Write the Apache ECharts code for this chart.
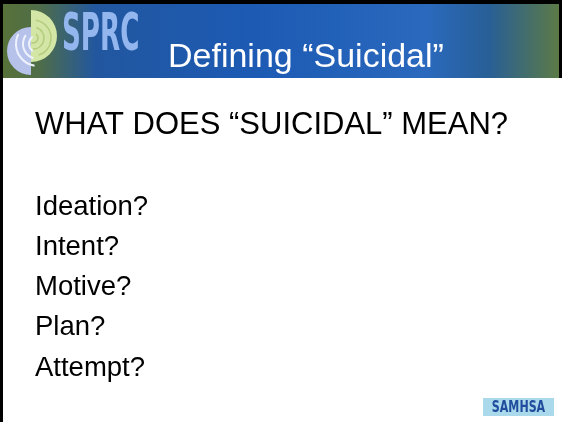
<!DOCTYPE html>
<html>
<head>
<meta charset="utf-8">
<script src="https://cdn.jsdelivr.net/npm/echarts@6/dist/echarts.min.js"></script>
<style>
    html, body { margin: 0; padding: 0; background: #fff; }
    #slide { width: 562px; height: 422px; }
</style>
</head>
<body>
<div id="slide"></div>
<script>
    // slide content
    var slideTitle = 'Defining “Suicidal”';
    var brandText = 'SPRC';
    var question = 'WHAT DOES “SUICIDAL” MEAN?';
    var terms = ['Ideation?', 'Intent?', 'Motive?', 'Plan?', 'Attempt?'];
    var footerText = 'SAMHSA';

    var chart = echarts.init(document.getElementById('slide'), null, {renderer: 'canvas'});

    var headerFill = new echarts.graphic.LinearGradient(0, 0, 1, 0, [
        {offset: 0, color: '#587238'},
        {offset: 0.07, color: '#4f6d48'},
        {offset: 0.17, color: '#22579f'},
        {offset: 0.45, color: '#1c5ab4'},
        {offset: 0.76, color: '#2a69bd'},
        {offset: 0.87, color: '#285f96'},
        {offset: 1, color: '#5e7b43'}
    ]);

    var sans = '"Liberation Sans", Arial, sans-serif';
    var narrow = '"DejaVu Sans Condensed", "DejaVu Sans", sans-serif';

    var elements = [
        // header band + frame
        {type: 'rect', shape: {x: 0, y: 0, width: 562, height: 78}, style: {fill: headerFill}, z: 1},
        {type: 'rect', shape: {x: 0, y: 0, width: 562, height: 4}, style: {fill: '#000'}, z: 5},
        {type: 'rect', shape: {x: 0, y: 0, width: 3, height: 422}, style: {fill: '#000'}, z: 5},
        {type: 'rect', shape: {x: 559, y: 0, width: 3, height: 78}, style: {fill: '#000'}, z: 5},

        // logo: left lavender half, right pale green half
        {type: 'sector', shape: {cx: 31, cy: 51, r: 24, startAngle: Math.PI / 2, endAngle: Math.PI * 1.5},
            style: {fill: '#b6c2ea'}, z: 2},
        {type: 'arc', shape: {cx: 38, cy: 44, r: 22, startAngle: Math.PI * 0.55, endAngle: Math.PI * 1.15},
            style: {stroke: '#eef2ff', lineWidth: 2, fill: null}, z: 3},
        {type: 'arc', shape: {cx: 38, cy: 44, r: 15, startAngle: Math.PI * 0.6, endAngle: Math.PI * 1.2},
            style: {stroke: '#eef2ff', lineWidth: 2, fill: null}, z: 3},
        {type: 'arc', shape: {cx: 38, cy: 44, r: 9, startAngle: Math.PI * 0.7, endAngle: Math.PI * 1.3},
            style: {stroke: '#eef2ff', lineWidth: 2, fill: null}, z: 3},
        {type: 'sector', shape: {cx: 31, cy: 36, r: 26, startAngle: -Math.PI / 2, endAngle: Math.PI / 2},
            style: {fill: '#d3e6a6'}, z: 2},
        {type: 'arc', shape: {cx: 33, cy: 38, r: 18, startAngle: -Math.PI * 0.45, endAngle: Math.PI * 0.4},
            style: {stroke: '#b4cc7e', lineWidth: 1.5, fill: null}, z: 3},
        {type: 'arc', shape: {cx: 33, cy: 38, r: 11, startAngle: -Math.PI * 0.4, endAngle: Math.PI * 0.5},
            style: {stroke: '#b4cc7e', lineWidth: 1.5, fill: null}, z: 3},
        {type: 'arc', shape: {cx: 33, cy: 38, r: 5, startAngle: -Math.PI * 0.3, endAngle: Math.PI * 0.6},
            style: {stroke: '#b4cc7e', lineWidth: 1.5, fill: null}, z: 3},

        // brand + title
        {type: 'text', x: 62, y: 36, scaleX: 0.56, z: 4,
            style: {text: brandText, x: 0, y: 0, fill: '#93b6ef', textAlign: 'left', textVerticalAlign: 'middle',
                font: 'bold 52px ' + narrow}},
        {type: 'text', z: 4,
            style: {text: slideTitle, x: 168, y: 58, fill: '#ffffff', textAlign: 'left', textVerticalAlign: 'middle',
                font: '34px ' + sans}},

        // body
        {type: 'text', z: 4,
            style: {text: question, x: 35, y: 125, fill: '#000', textAlign: 'left', textVerticalAlign: 'middle',
                font: '31px ' + sans}},

        // footer logo
        {type: 'rect', shape: {x: 483, y: 398, width: 71, height: 18}, style: {fill: '#a9d9ea'}, z: 2},
        {type: 'text', x: 518.5, y: 408, scaleX: 0.82, z: 4,
            style: {text: footerText, x: 0, y: 0, fill: '#1f4c9d', textAlign: 'center', textVerticalAlign: 'middle',
                font: 'bold 15px ' + narrow}}
    ];

    terms.forEach(function (t, i) {
        elements.push({
            type: 'text', z: 4,
            style: {text: t, x: 35, y: 207 + i * 40.25, fill: '#000', textAlign: 'left', textVerticalAlign: 'middle',
                font: '27.5px ' + sans}
        });
    });

    chart.setOption({
        backgroundColor: '#ffffff',
        animation: false,
        graphic: {elements: elements}
    });
</script>
</body>
</html>
